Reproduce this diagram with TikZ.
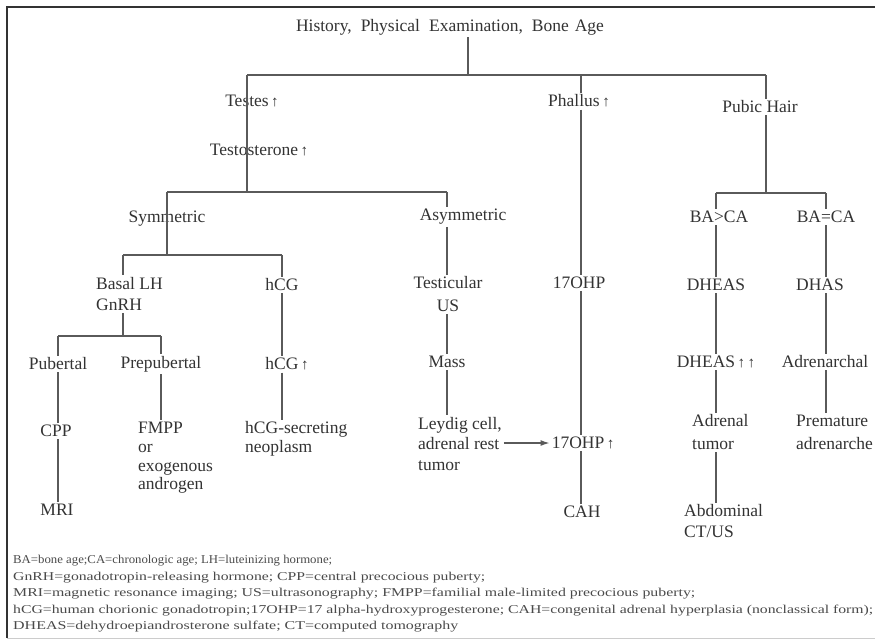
\documentclass[tikz,border=0pt]{standalone}
\usepackage{fontspec}
\setmainfont{Liberation Serif}
\usetikzlibrary{arrows.meta}
\definecolor{txt}{HTML}{333333}
\definecolor{foottxt}{HTML}{4A4A4A}
\definecolor{lncol}{HTML}{5A5A5A}
\newcommand\upar{{\fontsize{15}{15}\selectfont\,↑}}
\newcommand\fitw[2]{\resizebox{#1}{\height}{#2}}
\begin{document}
\begin{tikzpicture}[x=1pt,y=-1pt,
 lbl/.style={text=txt,font=\fontsize{17.5}{21}\selectfont,inner sep=2pt},
 ml/.style={lbl,align=left},
 mc/.style={lbl,align=center},
 wire/.style={draw=lncol,line width=1.3pt},
 foot/.style={text=foottxt,font=\fontsize{12}{14}\selectfont,inner sep=0pt,anchor=west}]
\useasboundingbox (0,0) rectangle (875,641);
\fill[white] (0,0) rectangle (875,641);
\draw[line width=2pt,draw=black!80] (7,7) -- (876,7);
\draw[line width=2pt,draw=black!80] (7,6) -- (7,638);
\draw[line width=1pt,draw=black!20] (7,638) -- (876,638);

% junction coordinates
\coordinate (j0) at (468,75);
\coordinate (tL) at (247,75);
\coordinate (tR) at (766,75);
\coordinate (cPh) at (581,75);
\coordinate (sTop) at (247,192);
\coordinate (sL) at (167,192);
\coordinate (sR) at (447,192);
\coordinate (yL) at (167,255);
\coordinate (bL) at (123,255);
\coordinate (bR) at (282,255);
\coordinate (gL) at (123,336);
\coordinate (pL) at (58,336);
\coordinate (pR) at (161,336);
\coordinate (hM) at (766,193);
\coordinate (hL) at (716,193);
\coordinate (hR) at (826,193);

% nodes
\node[lbl] (title) at (450,27) {History,\hspace{9pt}Physical\hspace{9pt}Examination,\hspace{9pt}Bone\hspace{6pt}Age};
\node[lbl] (testes) at (252,101) {Testes\upar};
\node[lbl] (testo) at (259,150) {Testosterone\upar};
\node[lbl] (phallus) at (579,101) {Phallus\upar};
\node[lbl] (pubic) at (760,107) {Pubic Hair};
\node[lbl] (sym) at (167,219) {Symmetric};
\node[lbl] (asym) at (463,217) {Asymmetric};
\node[ml,anchor=west] (basal) at (94,294) {Basal LH\\GnRH};
\node[lbl] (hcg) at (282,285) {hCG};
\node[lbl] (pub) at (58,364) {Pubertal};
\node[lbl] (prep) at (161,364) {Prepubertal};
\node[lbl] (hcgup) at (287,364) {hCG\upar};
\node[lbl] (cpp) at (56,431) {CPP};
\node[lbl] (mri) at (57,510) {MRI};
\node[ml,anchor=west,font=\fontsize{17.5}{18.6}\selectfont] (fmpp) at (136,458) {FMPP\\or\\exogenous\\androgen};
\node[ml,anchor=west,font=\fontsize{17.5}{18.5}\selectfont] (neo) at (243,439) {hCG-secreting\\neoplasm};
\node[mc,font=\fontsize{17.5}{23}\selectfont] (testus) at (448,294.5) {Testicular\\US};
\node[lbl] (mass) at (447,362) {Mass};
\node[ml,anchor=west,font=\fontsize{17.5}{20.5}\selectfont] (leydig) at (416,444) {Leydig cell,\\adrenal rest\\tumor};
\node[lbl] (ohp) at (579,283) {17OHP};
\node[lbl] (ohpup) at (583,443) {17OHP\upar};
\node[lbl] (cah) at (582,512) {CAH};
\node[lbl] (bagt) at (719,217) {BA>CA};
\node[lbl] (bageq) at (826,217) {BA=CA};
\node[lbl] (dheas) at (716,285) {DHEAS};
\node[lbl] (dhas) at (820,285) {DHAS};
\node[lbl] (dheasup) at (716,362) {DHEAS\upar\upar};
\node[lbl] (adrenarchal) at (825,362) {Adrenarchal};
\node[ml,anchor=west,font=\fontsize{17.5}{23}\selectfont] (adrtumor) at (690,432.5) {Adrenal\\tumor};
\node[ml,anchor=west,font=\fontsize{17.5}{23}\selectfont] (premature) at (794,432.5) {Premature\\adrenarche};
\node[ml,anchor=west,font=\fontsize{17.5}{21}\selectfont] (abd) at (682,521.5) {Abdominal\\CT/US};

% connectors
\draw[wire] (title.south -| j0) -- (j0);
\draw[wire] (tL) -- (tR);
\draw[wire] (tL) -- (sTop);
\draw[wire] (cPh) -- (phallus.north -| cPh);
\draw[wire] (phallus.south -| cPh) -- (ohp.north -| cPh);
\draw[wire] (ohp.south -| cPh) -- (ohpup.north -| cPh);
\draw[wire] (ohpup.south -| cPh) -- (cah.north -| cPh);
\draw[wire] (tR) -- (pubic.north -| tR);
\draw[wire] (pubic.south -| tR) -- (hM);
\draw[wire] (hL) -- (hR);
\draw[wire] (hL) -- (bagt.north -| hL);
\draw[wire] (bagt.south -| hL) -- (dheas.north -| hL);
\draw[wire] (dheas.south -| hL) -- (dheasup.north -| hL);
\draw[wire] (dheasup.south -| hL) -- (adrtumor.north -| hL);
\draw[wire] (adrtumor.south -| hL) -- (abd.north -| hL);
\draw[wire] (hR) -- (bageq.north -| hR);
\draw[wire] (bageq.south -| hR) -- (dhas.north -| hR);
\draw[wire] (dhas.south -| hR) -- (adrenarchal.north -| hR);
\draw[wire] (adrenarchal.south -| hR) -- (premature.north -| hR);
\draw[wire] (sL) -- (sR);
\draw[wire] (sL) -- (yL);
\draw[wire] (sR) -- (asym.north -| sR);
\draw[wire] (asym.south -| sR) -- (testus.north -| sR);
\draw[wire] (testus.south -| sR) -- (mass.north -| sR);
\draw[wire] (mass.south -| sR) -- (leydig.north -| sR);
\draw[wire] (bL) -- (bR);
\draw[wire] (bL) -- (basal.north -| bL);
\draw[wire] (bR) -- (hcg.north -| bR);
\draw[wire] (hcg.south -| bR) -- (hcgup.north -| bR);
\draw[wire] (hcgup.south -| bR) -- (neo.north -| bR);
\draw[wire] (basal.south -| gL) -- (gL);
\draw[wire] (pL) -- (pR);
\draw[wire] (pL) -- (pub.north -| pL);
\draw[wire] (pub.south -| pL) -- (cpp.north -| pL);
\draw[wire] (cpp.south -| pL) -- (mri.north -| pL);
\draw[wire] (pR) -- (prep.north -| pR);
\draw[wire] (prep.south -| pR) -- (fmpp.north -| pR);
\draw[wire,-{Latex[length=9pt,width=6pt]}] (leydig.east |- ohpup.west) -- (ohpup.west);

% footnotes
\node[foot] (f1) at (13,561) {\fitw{319pt}{BA=bone age;CA=chronologic age; LH=luteinizing hormone;}};
\node[foot] (f2) at (13,578) {\fitw{472pt}{GnRH=gonadotropin-releasing hormone; CPP=central precocious puberty;}};
\node[foot] (f3) at (13,594) {\fitw{682pt}{MRI=magnetic resonance imaging; US=ultrasonography; FMPP=familial male-limited precocious puberty;}};
\node[foot] (f4) at (13,611) {\fitw{860pt}{hCG=human chorionic gonadotropin;17OHP=17 alpha-hydroxyprogesterone; CAH=congenital adrenal hyperplasia (nonclassical form);}};
\node[foot] (f5) at (13,627) {\fitw{445pt}{DHEAS=dehydroepiandrosterone sulfate; CT=computed tomography}};
\end{tikzpicture}
\end{document}
